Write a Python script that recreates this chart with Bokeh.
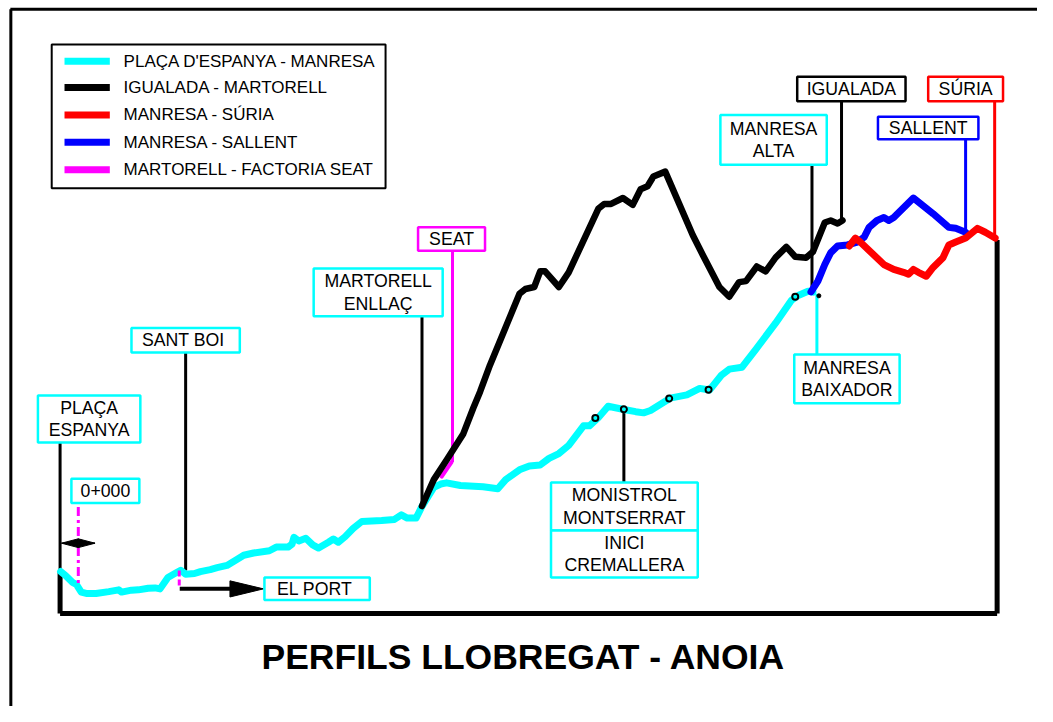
from bokeh.plotting import figure
from bokeh.models import Range1d
from bokeh.embed import file_html
from bokeh.resources import INLINE
from bokeh.core.properties import value

# ---------------- profile data (distance units, elevation units) ----------------
cyan_dist = [61, 66, 73, 77, 82, 88, 97, 110, 120, 123, 133, 140, 150, 157, 162, 170, 177, 183, 188,
             197, 203, 213, 220, 230, 240, 247, 257, 273, 280, 292, 296, 298, 303, 310, 317, 323, 333,
             338, 343, 350, 358, 367, 387, 400, 407, 413, 422, 428, 440, 447, 453, 467, 490, 505, 513,
             527, 537, 548, 557, 567, 577, 587, 592, 598, 607, 617, 633, 645, 653, 660, 680, 697, 710,
             720, 732, 740, 753, 767, 787, 803, 810, 820, 825]
cyan_elev = [43, 39, 32, 30, 22, 20.5, 20.5, 22.5, 24.3, 22, 24, 24.3, 26, 26.3, 25.3, 37, 41, 44.3, 40.3,
             41, 43, 45, 47, 49.3, 55.3, 59.7, 62, 64.3, 68, 68, 71, 78, 74.3, 77, 70.3, 67, 73,
             76.3, 73, 78.7, 87, 94.3, 95.3, 96.3, 101, 97.7, 97.7, 109.7, 129, 132.5, 133.7, 131, 129.7, 127.7, 137,
             147, 151, 152, 158.7, 163.7, 172, 185.3, 192, 192, 200.3, 212, 208.7, 206.5, 205.3, 207.7, 220.3, 223.7, 230.3,
             228.7, 243.7, 250, 252, 270.3, 297, 320.3, 325.3, 329.7, 328.7]

black_dist = [428, 440, 453, 470, 480, 487, 497, 527, 533, 542, 548, 553, 567, 577, 607, 613, 620, 632,
              642, 650, 657, 663, 675, 703, 713, 730, 740, 750, 757, 768, 777, 787, 798, 807, 818, 825,
              837, 843, 850, 855]
black_elev = [110, 137, 157, 184, 210, 227, 254, 327, 332, 334, 350, 350, 334, 349, 414, 419, 419, 425,
              418, 434, 437, 447, 452, 387, 367, 334, 324, 339, 340, 355, 350, 364, 375, 365, 364, 370,
              400, 402, 399, 402]

blue_dist = [823, 830, 837, 843, 850, 860, 870, 877, 882, 890, 897, 902, 907, 927, 947, 963, 970, 980]
blue_elev = [329, 340, 357, 369, 376, 377, 380, 385, 395, 402, 405, 402, 405, 425, 409, 395, 394, 390]

red_dist = [862, 868, 873, 897, 907, 917, 922, 927, 932, 940, 947, 957, 963, 970, 980, 992, 1000, 1010]
red_elev = [376, 384, 380, 357, 352, 349, 347, 352, 349, 345, 354, 364, 377, 380, 384, 394, 390, 384]

seat_dist = [448, 458]
seat_elev = [140, 155]

# stations marked with dots on the Plaça d'Espanya - Manresa line
dot_dist = [604, 633, 679, 719, 807]
dot_elev = [200, 209, 220, 229, 324]

legend_labels = ["PLAÇA D'ESPANYA - MANRESA", "IGUALADA - MARTORELL", "MANRESA - SÚRIA",
                 "MANRESA - SALLENT", "MARTORELL - FACTORIA SEAT"]

TITLE = "PERFILS  LLOBREGAT - ANOIA"

# ---------------- styling / layout ----------------
CYAN, BLACK, RED, BLUE, MAGENTA = "#00FFFF", "#000000", "#FF0000", "#0000FF", "#FF00FF"
legend_colors = [CYAN, BLACK, RED, BLUE, MAGENTA]
FONT = value("Liberation Sans")
BASE = 627  # drawing baseline (sheet row of elevation 0)


def Y(row):
    return BASE - row


p = figure(width=1037, height=706, x_range=Range1d(0, 1053), y_range=Range1d(Y(722), Y(0)),
           output_backend="svg", toolbar_location=None, min_border=0,
           x_axis_location=None, y_axis_location=None)
p.grid.visible = False
p.outline_line_color = None
p.background_fill_color = "white"
p.border_fill_color = "white"

# outer frame (top and left)
p.segment(x0=[10, 10.5], y0=[Y(9), Y(9)], x1=[1053, 10.5], y1=[Y(9), Y(722)],
          line_color=BLACK, line_width=3)

# profile base box
p.segment(x0=[60.5, 60.5, 1012], y0=[0, Y(584), Y(245)], x1=[1012, 60.5, 1012], y1=[0, 0, 0],
          line_color=BLACK, line_width=5)

# pointer lines
pointers = [(60.5, 452, 584, BLACK), (188, 360, 583, BLACK), (428, 323, 516, BLACK),
            (459, 256, 472, MAGENTA), (633, 418, 493, BLACK), (829, 300, 362, CYAN),
            (824, 168, 297, BLACK), (854, 103, 225, BLACK), (980, 142, 237, BLUE),
            (1009.5, 103, 243, RED)]
for x, r0, r1, c in pointers:
    p.line([x, x], [Y(r0), Y(r1)], line_color=c, line_width=3)

# profiles
p.line(cyan_dist, cyan_elev, line_color=CYAN, line_width=7, line_join="round", line_cap="round")
p.line(seat_dist, seat_elev, line_color=MAGENTA, line_width=4, line_cap="round")
p.line(black_dist, black_elev, line_color=BLACK, line_width=6.5, line_join="round", line_cap="round")
p.line(blue_dist, blue_elev, line_color=BLUE, line_width=7, line_join="round", line_cap="round")
p.line(red_dist, red_elev, line_color=RED, line_width=7, line_join="round", line_cap="round")
p.scatter(dot_dist, dot_elev, size=6, fill_color=CYAN, line_color=BLACK, line_width=2)
p.scatter([831], [Y(302)], size=4, fill_color=BLACK, line_color=BLACK)

# 0+000 marker: dash-dot line and double arrow
p.line([79, 79], [Y(518), Y(597)], line_color=MAGENTA, line_width=3, line_dash="9 4 3 4")
p.line([62, 96], [Y(555), Y(555)], line_color=BLACK, line_width=1.5)
p.patches([[62, 79, 79], [96, 79, 79]], [[Y(555), Y(550.5), Y(559.5)], [Y(555), Y(550.5), Y(559.5)]],
          fill_color=BLACK, line_color=BLACK)

# El Port arrow
p.line([181.5, 181.5], [Y(583), Y(600)], line_color=MAGENTA, line_width=3, line_dash="6 3")
p.line([182, 240], [Y(601.7), Y(601.7)], line_color=BLACK, line_width=4)
p.patch([233, 267, 233], [Y(593.5), Y(601.7), Y(610)], fill_color=BLACK, line_color=BLACK)

# label boxes
labels = [
    (["PLAÇA", "ESPANYA"], 38, 404, 142, 452, CYAN),
    (["0+000"], 72, 489, 141, 514, CYAN),
    (["SANT  BOI"], 133, 335, 243, 360, CYAN),
    (["EL  PORT"], 268, 590, 375, 613, CYAN),
    (["MARTORELL", "ENLLAÇ"], 318, 274, 449, 323, CYAN),
    (["SEAT"], 424, 232, 492, 256, MAGENTA),
    (["MONISTROL", "MONTSERRAT"], 559, 493, 708, 542, CYAN),
    (["INICI", "CREMALLERA"], 559, 542, 708, 590, CYAN),
    (["MANRESA", "BAIXADOR"], 806, 362, 913, 412, CYAN),
    (["MANRESA", "ALTA"], 731, 117, 839, 168, CYAN),
    (["IGUALADA"], 809, 78, 919, 103, BLACK),
    (["SALLENT"], 891, 119, 993, 142, BLUE),
    (["SÚRIA"], 942, 78, 1018, 103, RED),
]
for lines, l, t, r, b, c in labels:
    p.quad(left=[l], right=[r], top=[Y(t)], bottom=[Y(b)], fill_color="white",
           line_color=c, line_width=2.5)
    cx, cy = (l + r) / 2, (t + b) / 2
    offs = [0] if len(lines) == 1 else [-11.5, 11.5]
    for txt, o in zip(lines, offs):
        p.text([cx], [Y(cy + o)], text=[txt], text_align="center", text_baseline="middle",
               text_font=FONT, text_font_size="17.7px", text_color=BLACK)

# legend
p.quad(left=[52], right=[391], top=[Y(45)], bottom=[Y(192)], fill_color="white",
       line_color=BLACK, line_width=2)
leg_rows = [62, 89, 117, 145, 173]
for lab, col, row in zip(legend_labels, legend_colors, leg_rows):
    p.line([65, 111], [Y(row), Y(row)], line_color=col, line_width=7)
    p.text([125], [Y(row)], text=[lab], text_align="left", text_baseline="middle",
           text_font=FONT, text_font_size="17px", text_color=BLACK)

# title
p.text([536], [Y(671)], text=[TITLE], text_align="center", text_baseline="middle",
       text_font=FONT, text_font_size="35.5px", text_font_style="bold", text_color=BLACK)

open("out.html", "w").write(file_html(p, INLINE))
